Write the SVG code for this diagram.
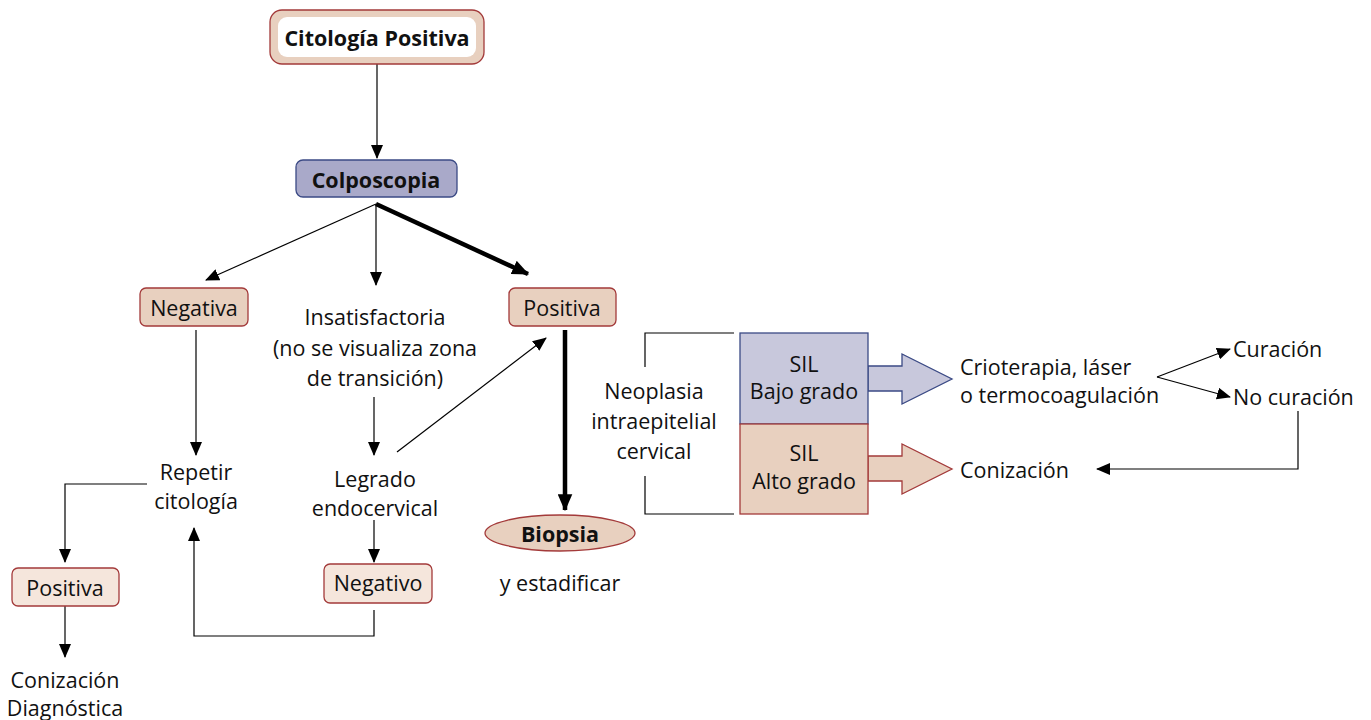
<svg xmlns="http://www.w3.org/2000/svg" width="1371" height="720" viewBox="0 0 1371 720">
<style>
text{font-family:"Open Sans","Noto Sans","DejaVu Sans",sans-serif;font-size:21.5px;fill:#111;text-anchor:middle;dominant-baseline:central}
.b{font-weight:bold}
.l{text-anchor:start}
.tan{fill:#e8d0bf;stroke:#a33a3a;stroke-width:1.3}
.lt{fill:#f5e6dc;stroke:#a33a3a;stroke-width:1.3}
.blu{fill:#a9a9c9;stroke:#3b4a85;stroke-width:1.3}
.ln{fill:none;stroke:#000;stroke-width:1.2}
.th{fill:none;stroke:#000;stroke-width:4.5}
</style>
<defs>
<marker id="a" viewBox="0 0 14 12" refX="13" refY="6" markerWidth="14" markerHeight="12" markerUnits="userSpaceOnUse" orient="auto"><path d="M0,0L14,6L0,12z" fill="#000"/></marker>
<marker id="at" viewBox="0 0 14 12" refX="13" refY="6" markerWidth="17" markerHeight="15" markerUnits="userSpaceOnUse" orient="auto"><path d="M0,0L14,6L0,12z" fill="#000"/></marker>
</defs>
<g id="connectors">
<path class="ln" d="M377,64V158" marker-end="url(#a)"/>
<path class="ln" d="M376,204L206,280" marker-end="url(#a)"/>
<path class="ln" d="M376,204V285" marker-end="url(#a)"/>
<path class="th" d="M376,204L528,274" marker-end="url(#at)"/>
<path class="ln" d="M196,330V455" marker-end="url(#a)"/>
<path class="ln" d="M147,484H65V562" marker-end="url(#a)"/>
<path class="ln" d="M65,606V657" marker-end="url(#a)"/>
<path class="ln" d="M374,397V455" marker-end="url(#a)"/>
<path class="ln" d="M397,452L546,338" marker-end="url(#a)"/>
<path class="ln" d="M374,520V562" marker-end="url(#a)"/>
<path class="ln" d="M374,610V636H194V528" marker-end="url(#a)"/>
<path class="th" d="M565,330V510" marker-end="url(#at)"/>
<path class="ln" d="M645,367V333H734M645,476V514H734"/>
<path class="ln" d="M1157,377L1230,349" marker-end="url(#a)"/>
<path class="ln" d="M1157,377L1230,397" marker-end="url(#a)"/>
<path class="ln" d="M1298,411V469H1097" marker-end="url(#a)"/>
<path d="M868,366H902V354L952,379L902,404V391H868z" fill="#c8c8dc" stroke="#3b4a85" stroke-width="1.3"/>
<path d="M868,456H902V444L952,469L902,494V481H868z" fill="#e8d0bf" stroke="#a33a3a" stroke-width="1.3"/>
</g>
<g id="citologia">
<rect class="tan" x="270" y="10" width="214" height="54" rx="12"/>
<rect x="278" y="17" width="198" height="40" rx="9" fill="#fff"/>
<text class="b" x="377" y="37">Citología Positiva</text>
</g>
<g id="colposcopia">
<rect class="blu" x="296" y="160" width="161" height="37" rx="7"/>
<text class="b" x="376" y="179">Colposcopia</text>
</g>
<g id="negativa">
<rect class="tan" x="140" y="288" width="108" height="38" rx="6"/>
<text x="194" y="307">Negativa</text>
</g>
<g id="insatisfactoria">
<text x="375" y="316">Insatisfactoria</text>
<text x="375" y="347">(no se visualiza zona</text>
<text x="375" y="377">de transición)</text>
</g>
<g id="positiva">
<rect class="tan" x="509" y="288" width="107" height="38" rx="6"/>
<text x="562" y="307">Positiva</text>
</g>
<g id="repetir">
<text x="196" y="471">Repetir</text>
<text x="196" y="500">citología</text>
</g>
<g id="positiva2">
<rect class="lt" x="12" y="568" width="107" height="38" rx="6"/>
<text x="65" y="587">Positiva</text>
</g>
<g id="conizacion-diag">
<text x="65" y="679">Conización</text>
<text x="65" y="707">Diagnóstica</text>
</g>
<g id="legrado">
<text x="375" y="478">Legrado</text>
<text x="375" y="507">endocervical</text>
</g>
<g id="negativo">
<rect class="lt" x="324" y="564" width="108" height="39" rx="6"/>
<text x="378" y="582">Negativo</text>
</g>
<g id="biopsia">
<ellipse class="tan" cx="560" cy="533" rx="75" ry="18"/>
<text class="b" x="560" y="533">Biopsia</text>
<text x="560" y="582">y estadificar</text>
</g>
<g id="neoplasia">
<text x="654" y="390">Neoplasia</text>
<text x="654" y="420">intraepitelial</text>
<text x="654" y="450">cervical</text>
</g>
<g id="sil-bajo">
<rect x="740" y="333" width="128" height="91" fill="#c8c8dc" stroke="#3b4a85" stroke-width="1.3"/>
<text x="804" y="363">SIL</text>
<text x="804" y="390">Bajo grado</text>
</g>
<g id="sil-alto">
<rect x="740" y="424" width="128" height="90" fill="#e8d0bf" stroke="#a33a3a" stroke-width="1.3"/>
<text x="804" y="452">SIL</text>
<text x="804" y="480">Alto grado</text>
</g>
<g id="crioterapia">
<text class="l" x="960" y="366">Crioterapia, láser</text>
<text class="l" x="960" y="394">o termocoagulación</text>
</g>
<g id="curacion"><text class="l" x="1233" y="348">Curación</text></g>
<g id="no-curacion"><text class="l" x="1233" y="396">No curación</text></g>
<g id="conizacion"><text class="l" x="960" y="469">Conización</text></g>
</svg>
